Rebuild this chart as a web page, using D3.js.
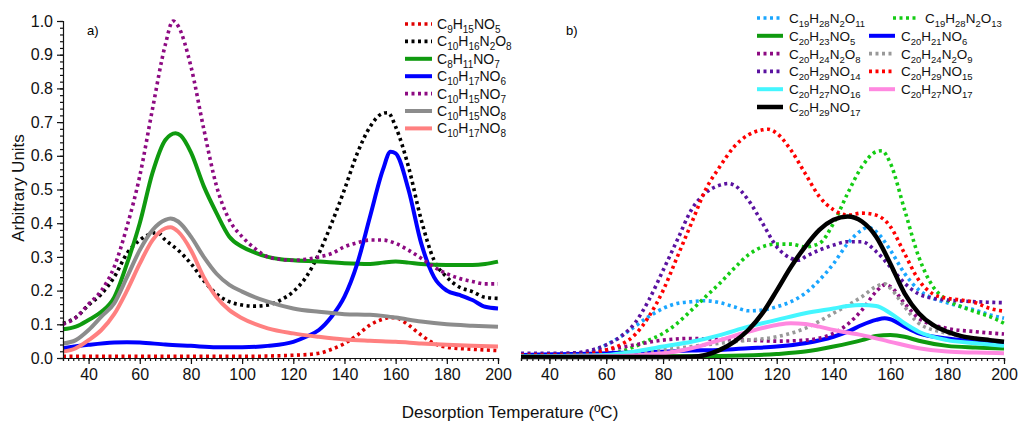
<!DOCTYPE html>
<html>
<head>
<meta charset="utf-8">
<script src="https://cdn.jsdelivr.net/npm/d3@7"></script>
<style>
  body { margin: 0; background: #fff; }
  svg { font-family: "Liberation Sans", Arial, sans-serif; }
</style>
</head>
<body>
<svg width="1019" height="430"></svg>
<script>
// ---- panel a) series, [temperature, arbitrary units] ----
var c9h15no5 = [[30,.005],[60,.005],[100,.005],[120,.008],[130,.014],[135,.026],[140,.043],[145,.068],[150,.098],[155,.115],[158,.12],[161,.117],[165,.098],[170,.068],[175,.043],[180,.032],[190,.026],[200,.022]];
var c10h16n2o8 = [[30,.103],[35,.12],[40,.157],[45,.19],[50,.24],[55,.31],[60,.35],[65,.37],[67,.372],[70,.35],[75,.32],[80,.28],[85,.23],[90,.19],[95,.167],[100,.157],[105,.154],[110,.157],[115,.172],[120,.197],[125,.24],[130,.31],[135,.40],[140,.50],[145,.607],[150,.686],[155,.726],[157,.728],[160,.686],[165,.568],[170,.41],[175,.29],[180,.24],[185,.21],[190,.197],[195,.18],[200,.177]];
var c8h11no7 = [[30,.085],[35,.093],[40,.113],[45,.137],[50,.18],[55,.28],[60,.40],[65,.55],[70,.647],[74,.667],[76,.66],[80,.61],[85,.51],[90,.43],[95,.36],[100,.33],[105,.313],[110,.30],[115,.293],[120,.29],[130,.286],[140,.281],[150,.279],[155,.283],[160,.286],[165,.283],[170,.279],[180,.276],[190,.276],[195,.279],[200,.286]];
var c10h17no6 = [[30,.029],[40,.039],[50,.046],[55,.047],[60,.046],[70,.04],[80,.036],[90,.032],[100,.032],[110,.036],[120,.048],[125,.063],[130,.083],[135,.123],[140,.182],[145,.28],[150,.42],[155,.558],[158,.612],[160,.607],[165,.50],[170,.34],[175,.24],[180,.20],[185,.187],[190,.172],[195,.152],[200,.147]];
var c10h15no7 = [[30,.10],[35,.12],[40,.16],[45,.20],[50,.27],[55,.39],[60,.54],[65,.74],[70,.93],[73,1.0],[75,.985],[80,.865],[85,.68],[90,.51],[95,.41],[100,.36],[105,.325],[110,.30],[115,.293],[120,.29],[125,.293],[130,.30],[135,.31],[140,.33],[145,.342],[150,.35],[155,.35],[160,.34],[165,.32],[170,.296],[175,.27],[180,.25],[185,.236],[190,.227],[195,.22],[200,.22]];
var c10h15no8 = [[30,.043],[35,.053],[40,.083],[45,.123],[50,.162],[55,.24],[60,.32],[65,.38],[70,.41],[72,.414],[75,.405],[80,.36],[85,.30],[90,.25],[95,.217],[100,.197],[110,.167],[120,.147],[130,.137],[140,.13],[150,.128],[155,.125],[160,.12],[170,.108],[180,.10],[190,.096],[200,.093]];
var c10h17no8 = [[30,.019],[35,.029],[40,.053],[45,.083],[50,.13],[55,.20],[60,.28],[65,.35],[70,.385],[72,.388],[75,.375],[80,.32],[85,.24],[90,.18],[95,.142],[100,.118],[110,.088],[120,.073],[130,.063],[140,.055],[150,.051],[160,.048],[170,.043],[180,.039],[190,.036],[200,.034]];

// ---- panel b) series ----
var c19h28n2o11 = [[30,.004],[50,.009],[55,.019],[60,.039],[65,.063],[70,.093],[75,.123],[80,.147],[85,.162],[90,.167],[95,.17],[100,.164],[105,.152],[110,.14],[115,.142],[120,.152],[125,.167],[130,.192],[135,.231],[140,.28],[145,.34],[150,.38],[152,.388],[155,.375],[160,.32],[165,.251],[170,.202],[175,.177],[180,.164],[185,.152],[190,.142],[195,.128],[200,.118]];
var c19h28n2o13 = [[30,.005],[50,.006],[60,.009],[65,.019],[70,.034],[75,.053],[80,.073],[85,.103],[90,.142],[95,.182],[100,.222],[105,.266],[110,.306],[115,.33],[120,.338],[125,.338],[130,.33],[135,.34],[140,.40],[145,.489],[150,.568],[155,.612],[157,.615],[160,.578],[165,.44],[170,.30],[175,.212],[180,.172],[185,.152],[190,.137],[195,.123],[200,.103]];
var c20h23no5 = [[30,.004],[80,.005],[100,.006],[120,.012],[130,.019],[140,.034],[150,.053],[155,.065],[160,.068],[165,.063],[170,.051],[180,.036],[190,.031],[200,.028]];
var c20h21no6 = [[30,.009],[70,.016],[90,.022],[100,.024],[110,.029],[120,.034],[130,.044],[140,.063],[145,.078],[150,.098],[155,.113],[158,.118],[160,.115],[165,.093],[170,.073],[180,.058],[190,.051],[200,.045]];
var c20h24n2o8 = [[30,.006],[50,.014],[60,.024],[70,.039],[80,.053],[90,.058],[100,.055],[110,.053],[120,.05],[130,.053],[140,.073],[150,.142],[155,.197],[158,.217],[160,.212],[165,.162],[170,.118],[180,.088],[190,.078],[200,.071]];
var c20h24n2o9 = [[30,.004],[60,.009],[80,.024],[90,.034],[100,.044],[110,.053],[120,.063],[130,.088],[140,.133],[150,.182],[155,.212],[158,.22],[160,.207],[165,.152],[170,.103],[180,.073],[190,.058],[200,.048]];
var c20h29no14 = [[30,.014],[40,.014],[50,.016],[55,.024],[60,.039],[65,.063],[70,.103],[75,.172],[80,.26],[85,.35],[90,.44],[95,.49],[100,.513],[103,.518],[105,.513],[110,.469],[115,.40],[120,.33],[125,.296],[128,.29],[130,.30],[135,.32],[140,.335],[145,.345],[150,.345],[155,.316],[160,.27],[165,.222],[170,.19],[175,.177],[180,.172],[190,.167],[200,.164]];
var c20h29no15 = [[30,.009],[50,.009],[55,.014],[60,.024],[65,.039],[70,.068],[75,.123],[80,.20],[85,.30],[90,.40],[95,.50],[100,.568],[105,.627],[110,.662],[115,.677],[117,.679],[120,.667],[125,.617],[130,.548],[135,.479],[140,.44],[145,.424],[150,.43],[155,.424],[160,.39],[165,.31],[170,.231],[175,.19],[180,.177],[185,.172],[190,.164],[195,.147],[200,.139]];
var c20h27no16 = [[30,.005],[60,.009],[70,.019],[80,.034],[90,.048],[100,.068],[110,.093],[120,.113],[130,.133],[140,.147],[145,.154],[150,.157],[155,.154],[160,.133],[165,.103],[170,.078],[180,.053],[190,.044],[200,.036]];
var c20h27no17 = [[30,.003],[60,.005],[80,.014],[90,.029],[100,.053],[110,.078],[120,.098],[125,.103],[130,.101],[135,.093],[140,.083],[150,.068],[160,.048],[170,.029],[180,.019],[190,.016],[200,.014]];
var c20h29no17 = [[30,.003],[80,.003],[90,.004],[95,.009],[100,.024],[105,.048],[110,.083],[115,.133],[120,.20],[125,.27],[130,.33],[135,.38],[140,.41],[145,.42],[150,.405],[155,.36],[160,.28],[165,.192],[170,.133],[175,.098],[180,.078],[185,.065],[190,.058],[195,.053],[200,.048]];

var xTicks = [40, 60, 80, 100, 120, 140, 160, 180, 200];
var yTicks = [0, 0.1, 0.2, 0.3, 0.4, 0.5, 0.6, 0.7, 0.8, 0.9, 1.0];

var seriesA = [
  {name: "C9H15NO5", data: c9h15no5, color: "#e00000", dot: true},
  {name: "C10H16N2O8", data: c10h16n2o8, color: "#000000", dot: true},
  {name: "C8H11NO7", data: c8h11no7, color: "#0f9a0f", dot: false},
  {name: "C10H17NO6", data: c10h17no6, color: "#0000ff", dot: false},
  {name: "C10H15NO7", data: c10h15no7, color: "#8d0a82", dot: true},
  {name: "C10H15NO8", data: c10h15no8, color: "#8c8c8c", dot: false},
  {name: "C10H17NO8", data: c10h17no8, color: "#ff8080", dot: false}
];
var seriesB = [
  {name: "C19H28N2O11", data: c19h28n2o11, color: "#1aa6ff", dot: true},
  {name: "C19H28N2O13", data: c19h28n2o13, color: "#14cc14", dot: true},
  {name: "C20H23NO5", data: c20h23no5, color: "#0f9a0f", dot: false},
  {name: "C20H21NO6", data: c20h21no6, color: "#0000ff", dot: false},
  {name: "C20H24N2O8", data: c20h24n2o8, color: "#8d0a82", dot: true},
  {name: "C20H24N2O9", data: c20h24n2o9, color: "#999999", dot: true},
  {name: "C20H29NO14", data: c20h29no14, color: "#5a12a0", dot: true},
  {name: "C20H29NO15", data: c20h29no15, color: "#ff0000", dot: true},
  {name: "C20H27NO16", data: c20h27no16, color: "#44f6ff", dot: false},
  {name: "C20H27NO17", data: c20h27no17, color: "#ff88e0", dot: false},
  {name: "C20H29NO17", data: c20h29no17, color: "#000000", dot: false, wide: true}
];

var svg = d3.select("svg");

var y = d3.scaleLinear().domain([0, 1]).range([358, 21]);
var xa = d3.scaleLinear().domain([30, 200]).range([63, 498]);
var xb = d3.scaleLinear().domain([30, 200]).range([521, 1004]);

// formula text with numeric subscripts
function formula(sel, txt, big, small) {
  var t = sel.append("text").attr("font-size", big).attr("fill", "#111");
  var parts = txt.split(/(\d+)/).filter(function(p) { return p.length; });
  var sub = false;
  parts.forEach(function(p) {
    var isNum = /^\d+$/.test(p);
    var ts = t.append("tspan").text(p);
    if (isNum) { ts.attr("font-size", small).attr("dy", sub ? 0 : 4); sub = true; }
    else { ts.attr("dy", sub ? -4 : 0); sub = false; }
  });
  return t;
}

function styleLine(path, s) {
  path.attr("fill", "none")
    .attr("stroke", s.color)
    .attr("stroke-width", s.wide ? 4.5 : 4);
  if (s.dot) path.attr("stroke-dasharray", "3,3.5").attr("stroke-width", 3.6);
}

function drawPanel(x, series) {
  var line = d3.line()
    .x(function(d) { return x(d[0]); })
    .y(function(d) { return y(d[1]); })
    .curve(d3.curveMonotoneX);
  var g = svg.append("g");
  series.forEach(function(s) {
    styleLine(g.append("path").datum(s.data).attr("d", line), s);
  });

  // x axis with minor ticks every 2 degrees
  var ax = svg.append("g").attr("transform", "translate(0,358)");
  ax.call(d3.axisBottom(x).tickValues(d3.range(30, 201, 2)).tickSize(3).tickFormat(""));
  ax.append("g").call(d3.axisBottom(x).tickValues(xTicks).tickSize(6).tickPadding(5))
    .call(function(a) { a.select(".domain").remove(); });
  ax.selectAll("text").attr("font-size", 16).attr("fill", "#111").attr("font-family", "Liberation Sans, Arial, sans-serif");
  ax.selectAll("path, line").attr("stroke", "#111").attr("stroke-width", 1.2);
}

drawPanel(xa, seriesA);
drawPanel(xb, seriesB);

// y axis on panel a
var ay = svg.append("g").attr("transform", "translate(63,0)");
ay.call(d3.axisLeft(y).tickValues(d3.range(0, 1.001, 0.02)).tickSize(3).tickFormat(""));
ay.append("g").call(d3.axisLeft(y).tickValues(yTicks).tickSize(6).tickPadding(4).tickFormat(d3.format(".1f")))
  .call(function(a) { a.select(".domain").remove(); });
ay.selectAll("text").attr("font-size", 16).attr("fill", "#111").attr("font-family", "Liberation Sans, Arial, sans-serif");
ay.selectAll("path, line").attr("stroke", "#111").attr("stroke-width", 1.2);

// panel labels
svg.append("text").attr("x", 87).attr("y", 35).attr("font-size", 13).text("a)");
svg.append("text").attr("x", 566).attr("y", 35).attr("font-size", 13).text("b)");

// axis titles
svg.append("text").attr("x", 510).attr("y", 418).attr("text-anchor", "middle")
  .attr("font-size", 17).attr("fill", "#111").text("Desorption Temperature (ºC)");
svg.append("text").attr("transform", "translate(24,188) rotate(-90)").attr("text-anchor", "middle")
  .attr("font-size", 17).attr("fill", "#111").text("Arbitrary Units");

// legend a
var lgA = svg.append("g");
seriesA.forEach(function(s, i) {
  var yy = 24 + i * 17.4;
  styleLine(lgA.append("line").attr("x1", 405).attr("x2", 432).attr("y1", yy).attr("y2", yy), s);
  formula(lgA, s.name, 14, 10).attr("x", 437).attr("y", yy + 5);
});

// legend b, two columns
var lgB = svg.append("g");
seriesB.forEach(function(s, i) {
  var row = Math.floor(i / 2), col = i % 2;
  var yy = 18 + row * 17.8;
  var x0 = col === 0 ? 757 : (row === 0 ? 893 : 869);
  styleLine(lgB.append("line").attr("x1", x0).attr("x2", x0 + 26).attr("y1", yy).attr("y2", yy), s);
  formula(lgB, s.name, 13.5, 9.5).attr("x", x0 + 32).attr("y", yy + 5);
});
</script>
</body>
</html>
